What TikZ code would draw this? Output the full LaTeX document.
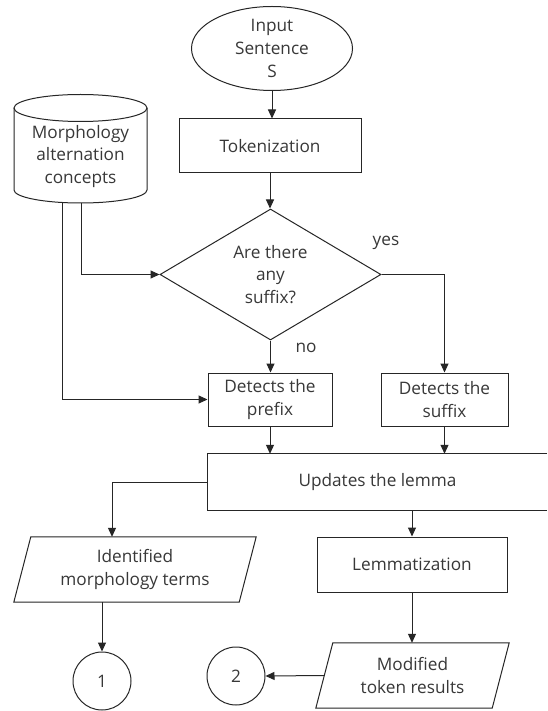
\documentclass[tikz,border=0pt]{standalone}
\usepackage{fontspec}
\setmainfont{Open Sans}
\usetikzlibrary{arrows.meta,shapes.geometric,calc}
\begin{document}
\begin{tikzpicture}[x=1pt,y=-1pt,
  every node/.style={font=\fontsize{17.2}{22.8}\selectfont, text=black!78},
  line/.style={draw=black!85, line width=1pt},
  arr/.style={line, -{Triangle[length=9pt,width=8pt]}},
  box/.style={line, rectangle, inner sep=0pt, align=center},
  io/.style={inner sep=0pt, align=center, minimum height=65pt},
  conn/.style={line, circle, minimum size=58pt, inner sep=0pt},
  lbl/.style={inner sep=0pt}
]
\path[use as bounding box, fill=white] (0,0) rectangle (547,711);

% database cylinder
\draw[line] (80.5,108) ellipse [x radius=66.5pt, y radius=13.5pt];
\draw[line] (14,108) -- (14,190) arc[start angle=180, end angle=360, x radius=66.5pt, y radius=13pt] -- (147,108);
\node[align=center, inner sep=0pt] (cyl) at (80.5,156.5) {Morphology\\alternation\\concepts};
\coordinate (cylA) at (81,203);
\coordinate (cylB) at (62,202.5);

\node[line, ellipse, minimum width=161pt, minimum height=84pt, inner sep=0pt, align=center] (inp) at (272,48.5) {Input\\Sentence\\S};
\node[box, minimum width=182pt, minimum height=54pt] (tok) at (270,146) {Tokenization};
\node[line, diamond, aspect=1.7, minimum width=221pt, minimum height=131pt, inner sep=0pt, align=center] (dia) at (270.5,274.5) {Are there\\any\\suffix?};
\node[box, minimum width=124pt, minimum height=53pt] (pre) at (270,399.5) {Detects the\\prefix};
\node[box, minimum width=127pt, minimum height=53pt] (suf) at (444.5,399.5) {Detects the\\suffix};
\node[inner sep=0pt, minimum width=339pt, minimum height=56pt] (upd) at (377.5,482) {Updates the lemma};
\draw[line] (upd.north east) -- (upd.north west) -- (upd.south west) -- (upd.south east);
\node[box, minimum width=190pt, minimum height=55pt] (lem) at (412,564.5) {Lemmatization};
\node[io, minimum width=242pt] (idn) at (135,569.5) {Identified\\morphology terms};
\draw[line] ([xshift=17pt]idn.north west) -- (idn.north east) -- ([xshift=-17pt]idn.south east) -- (idn.south west) -- cycle;
\node[io, minimum width=193pt] (mod) at (412.5,675.5) {Modified\\token results};
\draw[line] ([xshift=17pt]mod.north west) -- (mod.north east) -- ([xshift=-17pt]mod.south east) -- (mod.south west) -- cycle;
\node[conn] (c1) at (102,681) {1};
\node[conn] (c2) at (236,676) {2};

\node[lbl] (yes) at (386,243) {yes};
\node[lbl] (no) at (306,348) {no};

\draw[arr] (inp.south) -- (inp.south |- tok.north);
\draw[arr] (tok.south) -- (tok.south |- dia.north);
\draw[arr] (cylA) |- (dia.west);
\draw[arr] (cylB) |- (pre.west);
\draw[arr] (dia.south) -- (dia.south |- pre.north);
\draw[arr] (dia.east) -| (suf.north);
\draw[arr] (pre.south) -- (pre.south |- upd.north);
\draw[arr] (suf.south) -- (suf.south |- upd.north);
\draw[arr] (upd.south -| lem.north) -- (lem.north);
\draw[arr] (upd.west) -| ([xshift=-23pt]idn.north);
\draw[arr] (lem.south) -- (lem.south |- mod.north);
\draw[arr] (c1.north |- idn.south) -- (c1.north);
\draw[arr] ([xshift=8.5pt]mod.west) -- (c2.east);
\end{tikzpicture}
\end{document}
